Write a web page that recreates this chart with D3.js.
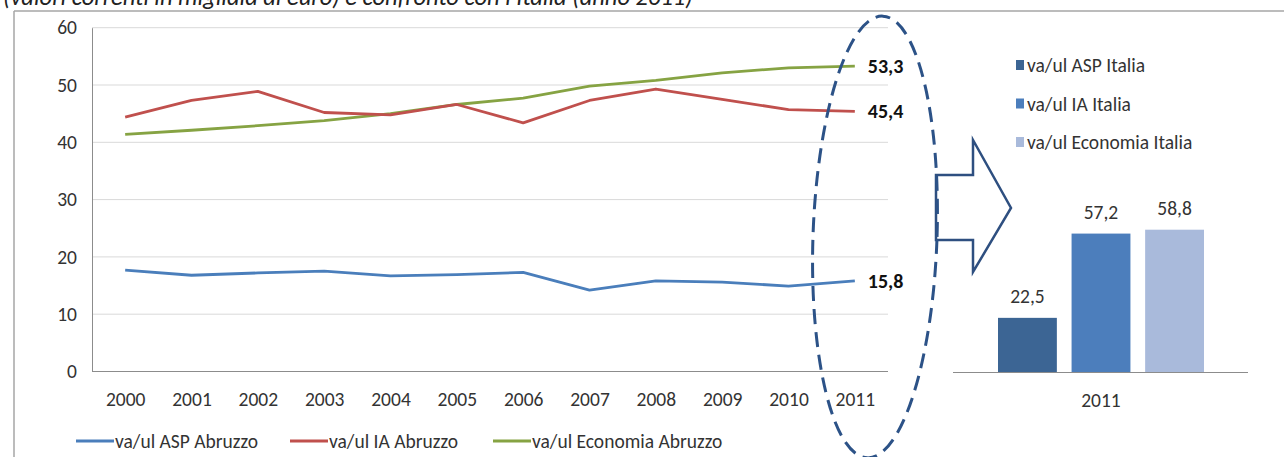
<!DOCTYPE html>
<html>
<head>
<meta charset="utf-8">
<script src="https://d3js.org/d3.v7.min.js"></script>
<style>
  body { margin: 0; background: #fff; }
  text { font-family: Carlito, Lato, "Open Sans", sans-serif; }
</style>
</head>
<body>
<div id="chart"></div>
<script>
// data
var years = ["2000", "2001", "2002", "2003", "2004", "2005", "2006", "2007", "2008", "2009", "2010", "2011"];
var aspAbruzzo = [17.7, 16.8, 17.2, 17.5, 16.7, 16.9, 17.3, 14.2, 15.8, 15.6, 14.9, 15.8];
var iaAbruzzo = [44.4, 47.3, 48.9, 45.2, 44.8, 46.6, 43.4, 47.3, 49.3, 47.5, 45.7, 45.4];
var ecoAbruzzo = [41.4, 42.1, 42.9, 43.8, 45.0, 46.6, 47.7, 49.8, 50.8, 52.1, 53.0, 53.3];
var lineNames = ["va/ul ASP Abruzzo", "va/ul IA Abruzzo", "va/ul Economia Abruzzo"];
var lineColors = ["#4a7ebb", "#c0504d", "#86a343"];
var yTicks = [0, 10, 20, 30, 40, 50, 60];

var italiaNames = ["va/ul ASP Italia", "va/ul IA Italia", "va/ul Economia Italia"];
var italiaValues = [22.5, 57.2, 58.8];
var italiaColors = ["#3c6594", "#4c7ebc", "#a9badb"];
var italiaYear = "2011";

var fmt = function (v) { return d3.format(".1f")(v).replace(".", ","); };

var W = 1284, H = 457;
var fs = 19.5; // text size used for labels
var svg = d3.select("#chart").append("svg").attr("width", W).attr("height", H);

// title, cut off at the top of the picture (as in the original)
svg.append("text")
  .attr("x", 3).attr("y", 5)
  .attr("font-size", 24.5).attr("font-style", "italic").attr("fill", "#222")
  .text("(valori correnti in migliaia di euro) e confronto con l'Italia (anno 2011)");

// frame of the chart area
svg.append("line").attr("x1", 14).attr("y1", 11).attr("x2", W).attr("y2", 11)
  .attr("stroke", "#a6a6a6").attr("stroke-width", 1.5);
svg.append("line").attr("x1", 14).attr("y1", 11).attr("x2", 14).attr("y2", H)
  .attr("stroke", "#a6a6a6").attr("stroke-width", 1.5);

// ---- line chart ----
var x = d3.scalePoint().domain(years).range([92, 888]).padding(0.5);
var y = d3.scaleLinear().domain([0, 60]).range([371.5, 27.7]);

svg.append("g").selectAll("line").data(yTicks.slice(1)).enter().append("line")
  .attr("x1", 92).attr("x2", 888)
  .attr("y1", function (d) { return y(d); })
  .attr("y2", function (d) { return y(d); })
  .attr("stroke", "#d9d9d9").attr("stroke-width", 1);

var yAxis = svg.append("g").attr("transform", "translate(92,0)")
  .call(d3.axisLeft(y).tickValues(yTicks).tickSize(0).tickPadding(15));
yAxis.select(".domain").attr("stroke", "#8c8c8c");
yAxis.selectAll("text").attr("font-size", fs).attr("fill", "#333").attr("font-family", null);

var xAxis = svg.append("g").attr("transform", "translate(0,371.5)")
  .call(d3.axisBottom(x).tickSize(0).tickPadding(21));
xAxis.select(".domain").attr("stroke", "#8c8c8c").attr("d", "M92,0H888");
xAxis.selectAll("text").attr("font-size", fs).attr("fill", "#333").attr("font-family", null);

var series = [aspAbruzzo, iaAbruzzo, ecoAbruzzo];
var line = d3.line()
  .x(function (d, i) { return x(years[i]); })
  .y(function (d) { return y(d); });

// green drawn before red so red stays on top like the picture
[2, 1, 0].forEach(function (k) {
  svg.append("path").datum(series[k])
    .attr("d", line)
    .attr("fill", "none")
    .attr("stroke", lineColors[k])
    .attr("stroke-width", 2.8)
    .attr("stroke-linejoin", "round");
});

// end value labels
series.forEach(function (s) {
  var last = s[s.length - 1];
  svg.append("text")
    .attr("x", x(years[years.length - 1]) + 13)
    .attr("y", y(last) + 7)
    .attr("font-size", 20).attr("font-weight", "bold").attr("fill", "#111")
    .text(fmt(last));
});

// bottom legend
var legX = [76, 290, 493];
lineNames.forEach(function (name, k) {
  svg.append("line")
    .attr("x1", legX[k]).attr("x2", legX[k] + 38)
    .attr("y1", 441).attr("y2", 441)
    .attr("stroke", lineColors[k]).attr("stroke-width", 2.8);
  svg.append("text")
    .attr("x", legX[k] + 39).attr("y", 448)
    .attr("font-size", fs).attr("fill", "#333")
    .text(name);
});

// ---- bar chart for Italia 2011 ----
var xb = d3.scaleBand().domain(italiaNames).range([998, 1204]).paddingInner(0.2).paddingOuter(0);
var yb = d3.scaleLinear().domain([0, 70]).range([372.5, 202.5]);

svg.append("g").selectAll("rect").data(italiaValues).enter().append("rect")
  .attr("x", function (d, i) { return xb(italiaNames[i]); })
  .attr("y", function (d) { return yb(d); })
  .attr("width", xb.bandwidth())
  .attr("height", function (d) { return yb(0) - yb(d); })
  .attr("fill", function (d, i) { return italiaColors[i]; });

svg.append("g").selectAll("text").data(italiaValues).enter().append("text")
  .attr("x", function (d, i) { return xb(italiaNames[i]) + xb.bandwidth() / 2; })
  .attr("y", function (d) { return yb(d) - 15; })
  .attr("text-anchor", "middle")
  .attr("font-size", fs).attr("fill", "#333")
  .text(function (d) { return fmt(d); });

svg.append("line").attr("x1", 953).attr("x2", 1248).attr("y1", 372.5).attr("y2", 372.5)
  .attr("stroke", "#8c8c8c").attr("stroke-width", 1.2);
svg.append("text")
  .attr("x", 1101).attr("y", 407).attr("text-anchor", "middle")
  .attr("font-size", fs).attr("fill", "#333")
  .text(italiaYear);

// right legend
italiaNames.forEach(function (name, k) {
  var cy = 65 + k * 38.5;
  svg.append("rect").attr("x", 1016).attr("y", cy - 5).attr("width", 8).attr("height", 10)
    .attr("fill", italiaColors[k]);
  svg.append("text").attr("x", 1027).attr("y", cy + 7)
    .attr("font-size", fs).attr("fill", "#333")
    .text(name);
});

// ---- block arrow ----
svg.append("path")
  .attr("d", "M936,175 L973,175 L973,140 L1011,208 L973,272 L973,240 L936,240 Z")
  .attr("fill", "none").attr("stroke", "#2e4f80").attr("stroke-width", 2.5)
  .attr("stroke-linejoin", "miter");

// ---- dashed ellipse round the 2011 values ----
svg.append("ellipse")
  .attr("cx", 0).attr("cy", 0).attr("rx", 62).attr("ry", 221)
  .attr("transform", "translate(875,237) rotate(2)")
  .attr("fill", "none").attr("stroke", "#2c5287").attr("stroke-width", 3)
  .attr("stroke-dasharray", "15,8");
</script>
</body>
</html>
